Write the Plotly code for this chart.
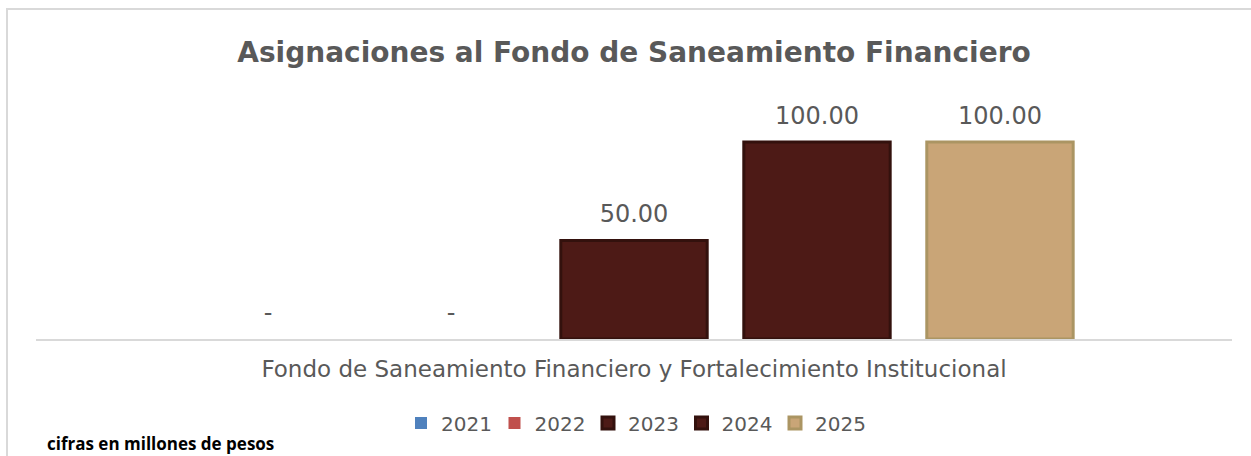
import plotly.graph_objects as go

categories = ["Fondo de Saneamiento Financiero y Fortalecimiento Institucional"]
years = ["2021", "2022", "2023", "2024", "2025"]
values = [0, 0, 50, 100, 100]
fill_colors = ["#4f81bd", "#c0504d", "#4d1a16", "#4d1a16", "#c9a577"]
edge_colors = ["#4f81bd", "#c0504d", "#33110d", "#33110d", "#ab9563"]
edge_widths = [0, 0, 3, 3, 3]

L, R, T, B = 36, 19, 100, 117
W, H = 1251, 456
pw, ph = W - L - R, H - T - B

def px_x(x):
    return (x - L) / pw

def px_y(y):
    return (H - B - y) / ph

fig = go.Figure()
for yr, v, fc, ec, ew in zip(years, values, fill_colors, edge_colors, edge_widths):
    label = "-" if v == 0 else f"{v:.2f}"
    fig.add_trace(go.Bar(
        name=yr, x=categories, y=[v],
        marker=dict(color=fc, line=dict(color=ec, width=ew)),
        text=[f"<span style='font-size:24px'>{label}</span><br> "],
        textposition="outside",
        textfont=dict(family="DejaVu Sans", size=10, color="#595959"),
        cliponaxis=False,
    ))

fig.update_layout(
    width=W, height=H,
    paper_bgcolor="white", plot_bgcolor="white",
    barmode="group", bargap=0.235, bargroupgap=0.2,
    margin=dict(l=L, r=R, t=T, b=B, autoexpand=False),
    title=dict(text="<b>Asignaciones al Fondo de Saneamiento Financiero</b>",
               x=634 / W, xanchor="center", y=1 - 52 / H, yanchor="middle",
               font=dict(family="DejaVu Sans", size=28, color="#595959")),
    xaxis=dict(showline=True, linecolor="#d9d9d9", linewidth=2, ticks="",
               ticklabelstandoff=8,
               tickfont=dict(family="DejaVu Sans", size=23, color="#595959")),
    yaxis=dict(visible=False, range=[0, 121.3]),
    legend=dict(orientation="h", x=px_x(635), xanchor="center", y=px_y(423), yanchor="middle",
                font=dict(family="DejaVu Sans", size=20, color="#595959"),
                itemwidth=30, tracegroupgap=0, entrywidth=48.5, entrywidthmode="pixels"),
    showlegend=True,
)
fig.add_shape(type="rect", xref="paper", yref="paper",
              x0=px_x(7), x1=px_x(1300), y0=px_y(500), y1=px_y(9),
              line=dict(color="#d9d9d9", width=2))
fig.add_annotation(text="<b>cifras en millones de pesos</b>", xref="paper", yref="paper",
                   x=px_x(45), xanchor="left", y=px_y(443), yanchor="middle",
                   showarrow=False, font=dict(family="Open Sans", size=17, color="#000000"))
fig.write_html("out.html", config={"displayModeBar": False},
               post_script="document.body.style.margin='0';document.body.style.padding='0';")
